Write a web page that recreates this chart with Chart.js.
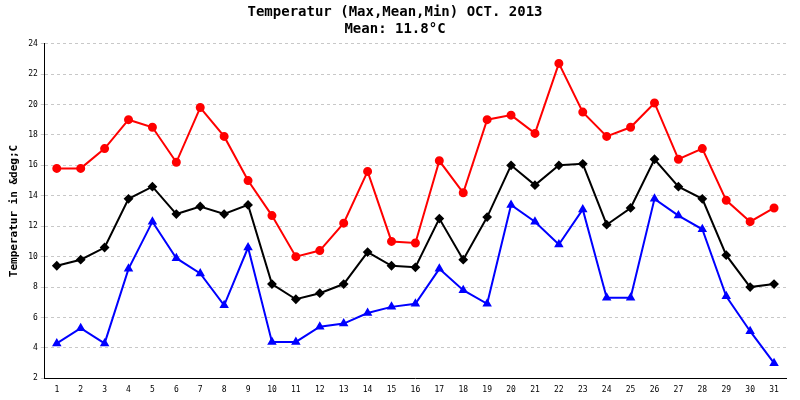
<!DOCTYPE html>
<html><head><meta charset="utf-8">
<script src="https://cdn.jsdelivr.net/npm/chart.js@4"></script>
<style>body{margin:0;background:#fff}#w{width:800px;height:400px}</style>
</head><body><div id="w"><canvas id="c"></canvas></div>
<script>
const days = Array.from({length:31},(_,i)=>String(i+1));
const maxT = [15.8,15.8,17.1,19.0,18.5,16.2,19.8,17.9,15.0,12.7,10.0,10.4,12.2,15.6,11.0,10.9,16.3,14.2,19.0,19.3,18.1,22.7,19.5,17.9,18.5,20.1,16.4,17.1,13.7,12.3,13.2];
const meanT = [9.4,9.8,10.6,13.8,14.6,12.8,13.3,12.8,13.4,8.2,7.2,7.6,8.2,10.3,9.4,9.3,12.5,9.8,12.6,16.0,14.7,16.0,16.1,12.1,13.2,16.4,14.6,13.8,10.1,8.0,8.2];
const minT = [4.3,5.3,4.3,9.2,12.3,9.9,8.9,6.8,10.6,4.4,4.4,5.4,5.6,6.3,6.7,6.9,9.2,7.8,6.9,13.4,12.3,10.8,13.1,7.3,7.3,13.8,12.7,11.8,7.4,5.1,3.0];
const yTicks = [2,4,6,8,10,12,14,16,18,20,22,24];
const F = "'DejaVu Sans Mono', monospace";
function ds(label,data,color,style){return {label,data,borderColor:color,backgroundColor:color,borderWidth:2,pointStyle:style,pointRadius:3.5,pointHoverRadius:3.5,tension:0};}
new Chart(document.getElementById('c'),{
 type:'line',
 data:{labels:days,datasets:[ds('Max',maxT,'#ff0000','circle'),ds('Mean',meanT,'#000000','rectRot'),ds('Min',minT,'#0000ff','triangle')]},
 options:{responsive:true,maintainAspectRatio:false,animation:false,
  layout:{padding:{left:4,right:14,top:0,bottom:2}},
  plugins:{legend:{display:false},tooltip:{enabled:false},
   title:{display:true,text:['Temperatur (Max,Mean,Min) OCT. 2013','Mean: 11.8°C'],color:'#000',font:{family:F,size:14,weight:'bold',lineHeight:1.2},padding:{top:4,bottom:6}}},
  scales:{
   x:{offset:true,grid:{display:false,drawTicks:true,tickLength:4},border:{color:'#000'},ticks:{color:'#000',font:{family:F,size:8},maxRotation:0,autoSkip:false}},
   y:{min:2,max:24,afterBuildTicks:a=>{a.ticks=yTicks.map(v=>({value:v}));},
      grid:{color:'#c8c8c8',tickLength:4,drawTicks:true},border:{color:'#000',dash:[3,3]},
      ticks:{color:'#000',font:{family:F,size:8}},
      title:{display:true,text:'Temperatur in &deg;C',color:'#000',font:{family:F,size:11,weight:'bold'}}}
  }}
});
</script></body></html>
